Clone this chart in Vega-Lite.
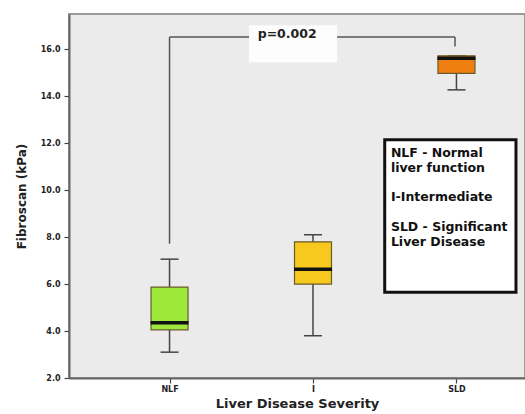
{
  "$schema": "https://vega.github.io/schema/vega-lite/v6.json",
  "width": 456,
  "height": 364,
  "autosize": "none",
  "padding": {"left": 69, "top": 14, "right": 0, "bottom": 36},
  "background": "white",
  "config": {
    "view": {"fill": "#ebebeb", "stroke": "#9a9a9a", "strokeWidth": 2},
    "font": "DejaVu Sans"
  },
  "datasets": {
    "boxes": [
      {"group": "NLF", "pos": 1, "min": 3.1, "q1": 4.05, "median": 4.35, "q3": 5.87, "max": 7.06, "color": "NLF"},
      {"group": "I", "pos": 2, "min": 3.8, "q1": 6.0, "median": 6.63, "q3": 7.8, "max": 8.1, "color": "I"},
      {"group": "SLD", "pos": 3, "min": 14.27, "q1": 14.97, "median": 15.62, "q3": 15.72, "max": 15.72, "color": "SLD"}
    ],
    "bracket": [
      {"x": 1, "x2": 1, "y": 7.72, "y2": 16.52},
      {"x": 1, "x2": 2.99, "y": 16.52, "y2": 16.52},
      {"x": 2.99, "x2": 2.99, "y": 16.52, "y2": 16.12}
    ],
    "pbox": [{"x": 1.554, "x2": 2.168, "y": 17.02, "y2": 15.45}],
    "ptext": [{"x": 1.82, "y": 16.64, "label": "p=0.002"}],
    "legbox": [{"x": 2.5, "x2": 3.415, "y": 12.15, "y2": 5.65}],
    "legtext": [
      {"x": 2.543, "y": 11.85, "label": ["NLF - Normal", "liver function"]},
      {"x": 2.543, "y": 9.96, "label": ["I-Intermediate"]},
      {"x": 2.543, "y": 8.68, "label": ["SLD - Significant", "Liver Disease"]}
    ]
  },
  "layer": [
    {
      "data": {"name": "boxes"},
      "mark": {"type": "rule", "color": "#444", "strokeWidth": 1.5},
      "encoding": {
        "x": {
          "field": "pos", "type": "quantitative",
          "scale": {"domain": [0.334, 3.443], "nice": false, "zero": false},
          "axis": {
            "values": [1, 2, 3],
            "labelExpr": "datum.value == 1 ? 'NLF' : datum.value == 2 ? 'I' : 'SLD'",
            "title": "Liver Disease Severity",
            "titleFont": "DejaVu Sans", "titleFontSize": 13, "titleFontWeight": "bold", "titleColor": "#222",
            "titlePadding": 4,
            "labelFontSize": 8, "labelFontWeight": "bold", "labelColor": "#222",
            "labelPadding": 2,
            "domainColor": "#666", "domainWidth": 2,
            "tickColor": "#444", "tickSize": 5, "tickWidth": 1.2,
            "grid": false
          }
        },
        "y": {
          "field": "min", "type": "quantitative",
          "scale": {"domain": [2, 17.5], "nice": false, "zero": false},
          "axis": {
            "values": [2, 4, 6, 8, 10, 12, 14, 16],
            "format": ".1f",
            "title": "Fibroscan (kPa)",
            "titleFont": "DejaVu Sans", "titleFontSize": 12, "titleFontWeight": "bold", "titleColor": "#222",
            "titlePadding": 12,
            "labelFontSize": 8, "labelFontWeight": "bold", "labelColor": "#222",
            "labelPadding": 4,
            "domainColor": "#666", "domainWidth": 2,
            "tickColor": "#444", "tickSize": 5, "tickWidth": 1.2,
            "grid": false
          }
        },
        "y2": {"field": "max"}
      }
    },
    {
      "data": {"name": "boxes"},
      "mark": {"type": "tick", "orient": "horizontal", "color": "#444", "opacity": 1, "size": 18, "thickness": 1.5},
      "encoding": {
        "x": {"field": "pos", "type": "quantitative"},
        "y": {"field": "min", "type": "quantitative"}
      }
    },
    {
      "data": {"name": "boxes"},
      "mark": {"type": "tick", "orient": "horizontal", "color": "#444", "opacity": 1, "size": 18, "thickness": 1.5},
      "encoding": {
        "x": {"field": "pos", "type": "quantitative"},
        "y": {"field": "max", "type": "quantitative"}
      }
    },
    {
      "data": {"name": "boxes"},
      "mark": {"type": "bar", "size": 37, "stroke": "#6b5a2a", "strokeWidth": 1.2, "orient": "vertical"},
      "encoding": {
        "x": {"field": "pos", "type": "quantitative"},
        "y": {"field": "q1", "type": "quantitative"},
        "y2": {"field": "q3"},
        "color": {
          "field": "color", "type": "nominal",
          "scale": {"domain": ["NLF", "I", "SLD"], "range": ["#9ee83c", "#f7c81e", "#f07f12"]},
          "legend": null
        }
      }
    },
    {
      "data": {"name": "boxes"},
      "mark": {"type": "tick", "orient": "horizontal", "color": "#111", "opacity": 1, "size": 38, "thickness": 3.5},
      "encoding": {
        "x": {"field": "pos", "type": "quantitative"},
        "y": {"field": "median", "type": "quantitative"}
      }
    },
    {
      "data": {"name": "bracket"},
      "mark": {"type": "rule", "color": "#555", "strokeWidth": 1.5},
      "encoding": {
        "x": {"field": "x", "type": "quantitative"},
        "x2": {"field": "x2"},
        "y": {"field": "y", "type": "quantitative"},
        "y2": {"field": "y2"}
      }
    },
    {
      "data": {"name": "pbox"},
      "mark": {"type": "rect", "color": "#fdfdfd"},
      "encoding": {
        "x": {"field": "x", "type": "quantitative"},
        "x2": {"field": "x2"},
        "y": {"field": "y", "type": "quantitative"},
        "y2": {"field": "y2"}
      }
    },
    {
      "data": {"name": "ptext"},
      "mark": {"type": "text", "font": "DejaVu Sans", "fontSize": 12.5, "fontWeight": "bold", "color": "#222", "align": "center", "baseline": "middle"},
      "encoding": {
        "x": {"field": "x", "type": "quantitative"},
        "y": {"field": "y", "type": "quantitative"},
        "text": {"field": "label"}
      }
    },
    {
      "data": {"name": "legbox"},
      "mark": {"type": "rect", "fill": "white", "stroke": "#111", "strokeWidth": 3},
      "encoding": {
        "x": {"field": "x", "type": "quantitative"},
        "x2": {"field": "x2"},
        "y": {"field": "y", "type": "quantitative"},
        "y2": {"field": "y2"}
      }
    },
    {
      "data": {"name": "legtext"},
      "mark": {"type": "text", "font": "DejaVu Sans", "fontSize": 12.5, "fontWeight": "bold", "color": "#111", "align": "left", "baseline": "top", "lineHeight": 15},
      "encoding": {
        "x": {"field": "x", "type": "quantitative"},
        "y": {"field": "y", "type": "quantitative"},
        "text": {"field": "label"}
      }
    }
  ]
}
